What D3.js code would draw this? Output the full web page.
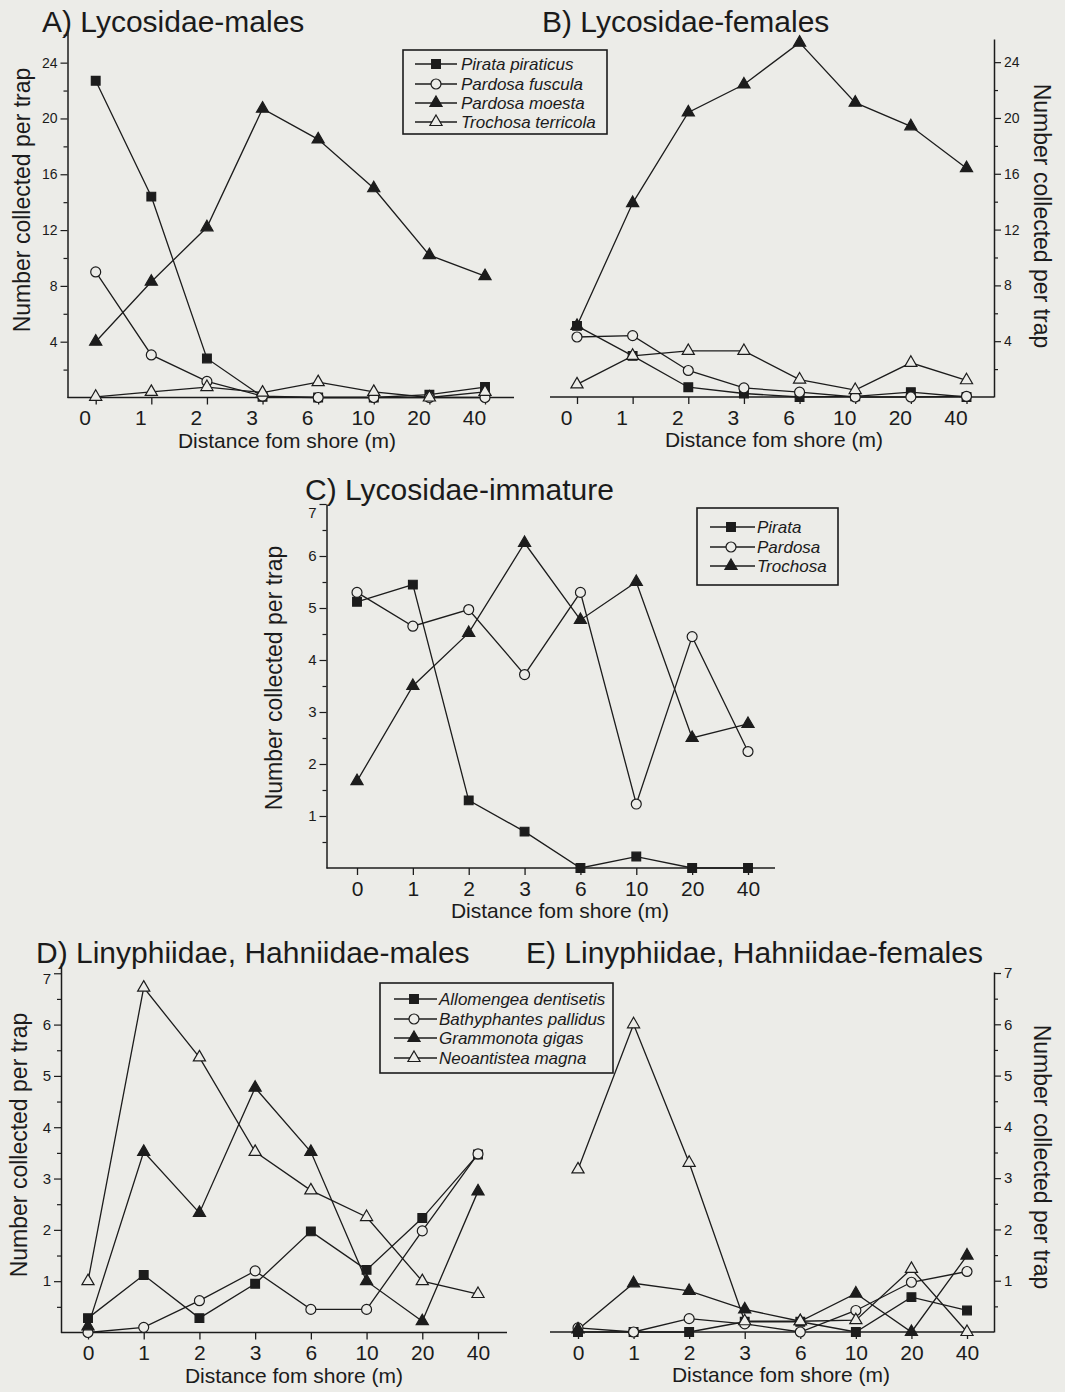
<!DOCTYPE html>
<html>
<head>
<meta charset="utf-8">
<script src="https://cdn.jsdelivr.net/npm/d3@7"></script>
<style>
  body { margin: 0; background: #ecece8; }
  svg text { font-family: "Liberation Sans", Arial, sans-serif; fill: #1b1b1b; }
</style>
</head>
<body>
<svg id="chart" width="1065" height="1392"></svg>
<script>
// distance categories (m)
var cats = ["0", "1", "2", "3", "6", "10", "20", "40"];

// A) Lycosidae males
var aPirata    = [22.7, 14.4, 2.8, 0.05, 0, 0, 0.2, 0.75];
var aFuscula   = [9.0, 3.05, 1.15, 0.1, 0, 0, 0, 0];
var aMoesta    = [4.0, 8.3, 12.2, 20.7, 18.5, 15.0, 10.2, 8.7];
var aTerricola = [0.05, 0.4, 0.75, 0.35, 1.1, 0.4, 0, 0.4];

// B) Lycosidae females
var bPirata    = [5.1, 2.95, 0.7, 0.25, 0, 0.05, 0.35, 0];
var bFuscula   = [4.3, 4.4, 1.9, 0.65, 0.35, 0, 0, 0.05];
var bMoesta    = [5.1, 13.9, 20.4, 22.4, 25.4, 21.1, 19.4, 16.4];
var bTerricola = [0.9, 2.95, 3.3, 3.3, 1.25, 0.5, 2.45, 1.2];

// C) Lycosidae immature
var cPirata   = [5.12, 5.45, 1.3, 0.7, 0, 0.22, 0, 0];
var cPardosa  = [5.3, 4.65, 4.97, 3.72, 5.3, 1.23, 4.45, 2.24];
var cTrochosa = [1.67, 3.5, 4.52, 6.25, 4.77, 5.5, 2.5, 2.77];

// D) Linyphiidae, Hahniidae males
var dAllomengea   = [0.28, 1.12, 0.28, 0.95, 1.97, 1.22, 2.23, 3.47];
var dBathyphantes = [0, 0.1, 0.62, 1.2, 0.45, 0.45, 1.98, 3.48];
var dGrammonota   = [0.12, 3.52, 2.33, 4.77, 3.52, 1.0, 0.22, 2.75];
var dNeoantistea  = [1.0, 6.72, 5.36, 3.52, 2.77, 2.25, 1.0, 0.75];

// E) Linyphiidae, Hahniidae females
var eAllomengea   = [0, 0, 0, 0.2, 0.2, 0, 0.68, 0.42];
var eBathyphantes = [0.08, 0, 0.26, 0.16, 0, 0.42, 0.97, 1.18];
var eGrammonota   = [0.05, 0.95, 0.8, 0.44, 0.21, 0.75, 0, 1.49];
var eNeoantistea  = [3.17, 6.0, 3.3, 0.21, 0.21, 0.23, 1.23, 0];

var lycoTicks = [4, 8, 12, 16, 20, 24];
var lycoMinor = [2, 6, 10, 14, 18, 22, 26];
var smallTicks = [1, 2, 3, 4, 5, 6, 7];
var smallMinor = [0.5, 1.5, 2.5, 3.5, 4.5, 5.5, 6.5];

var lycoNames = ["Pirata piraticus", "Pardosa fuscula", "Pardosa moesta", "Trochosa terricola"];
var immNames = ["Pirata", "Pardosa", "Trochosa"];
var linyNames = ["Allomengea dentisetis", "Bathyphantes pallidus", "Grammonota gigas", "Neoantistea magna"];

var bg = "#ecece8", ink = "#1c1c1c";
var svg = d3.select("#chart");
svg.append("rect").attr("width", 1065).attr("height", 1392).attr("fill", bg);

function marker(g, shape, x, y) {
  var type = shape === "square" ? d3.symbolSquare : shape === "circle" ? d3.symbolCircle : d3.symbolTriangle;
  var size = shape === "square" ? 76 : shape === "circle" ? 78 : 64;
  g.append("path")
    .attr("d", d3.symbol().type(type).size(size)())
    .attr("transform", "translate(" + x + "," + y + ")")
    .attr("fill", (shape === "circle" || shape === "triangleOpen") ? bg : ink)
    .attr("stroke", ink)
    .attr("stroke-width", 1.2);
}

function drawPanel(p) {
  var g = svg.append("g");
  var x = d3.scalePoint().domain(cats).range([p.xFirst, p.xLast]);
  var y = d3.scaleLinear().domain([0, p.yMax]).range([p.base, p.top]);
  var right = p.side === "right";
  var axisX = right ? p.xEnd : p.xStart;

  // x axis
  g.append("line")
    .attr("x1", p.xStart).attr("x2", p.xEnd)
    .attr("y1", p.base).attr("y2", p.base)
    .attr("stroke", ink).attr("stroke-width", 1.5);
  var xa = g.append("g")
    .attr("transform", "translate(0," + p.base + ")")
    .call(d3.axisBottom(x).tickSize(7).tickSizeOuter(0).tickPadding(6));
  xa.select(".domain").remove();
  xa.selectAll("line").attr("stroke", ink).attr("stroke-width", 1.3);
  xa.selectAll("text").attr("dx", p.labelDx).style("font-size", "21px");

  // y axis
  var yAxis = right ? d3.axisRight(y) : d3.axisLeft(y);
  var ya = g.append("g")
    .attr("transform", "translate(" + axisX + ",0)")
    .call(yAxis.tickValues(p.yTicks).tickFormat(d3.format("d"))
      .tickSize(7).tickSizeOuter(0).tickPadding(3));
  ya.select(".domain").attr("stroke", ink).attr("stroke-width", 1.5);
  ya.selectAll("line").attr("stroke", ink).attr("stroke-width", 1.2);
  ya.selectAll("text").style("font-size", p.yFont + "px");
  // the top label sits just under the panel title
  if (p.topNudge) {
    ya.selectAll(".tick text")
      .filter(function(d) { return d === p.yTicks[p.yTicks.length - 1]; })
      .attr("y", p.topNudge);
  }

  var yMinorAxis = right ? d3.axisRight(y) : d3.axisLeft(y);
  var ym = g.append("g")
    .attr("transform", "translate(" + axisX + ",0)")
    .call(yMinorAxis.tickValues(p.yMinor.filter(function(v) { return v <= p.yMax; }))
      .tickSize(4).tickSizeOuter(0).tickFormat(""));
  ym.select(".domain").remove();
  ym.selectAll("line").attr("stroke", ink).attr("stroke-width", 1.2);

  // titles
  g.append("text")
    .attr("x", p.titleX).attr("y", p.titleY)
    .style("font-size", "30px")
    .text(p.title);
  g.append("text")
    .attr("x", p.xTitleX).attr("y", p.base + 50)
    .attr("text-anchor", "middle")
    .style("font-size", "21px")
    .text("Distance fom shore (m)");
  g.append("text")
    .attr("transform", "translate(" + p.yTitleX + "," + p.yTitleY + ") rotate(" + (right ? 90 : -90) + ")")
    .attr("text-anchor", "middle")
    .attr("dy", "0.35em")
    .style("font-size", "23px")
    .text("Number collected per trap");

  // series
  var line = d3.line()
    .x(function(d, i) { return x(cats[i]); })
    .y(function(d) { return y(d); });
  p.series.forEach(function(s) {
    g.append("path")
      .attr("d", line(s.values))
      .attr("fill", "none")
      .attr("stroke", ink)
      .attr("stroke-width", 1.3);
  });
  p.series.forEach(function(s) {
    s.values.forEach(function(v, i) {
      marker(g, s.shape, x(cats[i]), y(v));
    });
  });
}

function drawLegend(l) {
  var g = svg.append("g");
  g.append("rect")
    .attr("x", l.x0).attr("y", l.y0)
    .attr("width", l.x1 - l.x0).attr("height", l.y1 - l.y0)
    .attr("fill", bg).attr("stroke", ink).attr("stroke-width", 1.6);
  l.names.forEach(function(name, i) {
    var ry = l.rows[i];
    g.append("line")
      .attr("x1", l.lineX0).attr("x2", l.lineX1)
      .attr("y1", ry).attr("y2", ry)
      .attr("stroke", ink).attr("stroke-width", 1.3);
    marker(g, l.shapes[i], l.markX, ry);
    g.append("text")
      .attr("x", l.textX).attr("y", ry)
      .attr("dy", "0.36em")
      .style("font-size", "17px")
      .style("font-style", "italic")
      .text(name);
  });
}

var fourShapes = ["square", "circle", "triangle", "triangleOpen"];

drawPanel({
  title: "A) Lycosidae-males", titleX: 42, titleY: 32,
  side: "left", xStart: 67.5, xEnd: 514, xFirst: 95.7, xLast: 485, labelDx: -11,
  base: 397.5, top: 30, yMax: 26.34, yTicks: lycoTicks, yMinor: lycoMinor, yFont: 14,
  xTitleX: 287, yTitleX: 22, yTitleY: 200,
  series: [
    { values: aPirata, shape: "square" },
    { values: aFuscula, shape: "circle" },
    { values: aMoesta, shape: "triangle" },
    { values: aTerricola, shape: "triangleOpen" }
  ]
});

drawPanel({
  title: "B) Lycosidae-females", titleX: 542, titleY: 32,
  side: "right", xStart: 550, xEnd: 994, xFirst: 577, xLast: 966.5, labelDx: -11,
  base: 397, top: 39, yMax: 25.66, yTicks: lycoTicks, yMinor: lycoMinor, yFont: 14,
  xTitleX: 774, yTitleX: 1042, yTitleY: 216,
  series: [
    { values: bPirata, shape: "square" },
    { values: bFuscula, shape: "circle" },
    { values: bMoesta, shape: "triangle" },
    { values: bTerricola, shape: "triangleOpen" }
  ]
});

drawPanel({
  title: "C) Lycosidae-immature", titleX: 305, titleY: 500,
  side: "left", xStart: 326.5, xEnd: 775, xFirst: 357, xLast: 748, labelDx: 0,
  base: 868, top: 504, yMax: 7, yTicks: smallTicks, yMinor: smallMinor, yFont: 15,
  topNudge: 9,
  xTitleX: 560, yTitleX: 274, yTitleY: 678,
  series: [
    { values: cPirata, shape: "square" },
    { values: cPardosa, shape: "circle" },
    { values: cTrochosa, shape: "triangle" }
  ]
});

drawPanel({
  title: "D) Linyphiidae, Hahniidae-males", titleX: 36, titleY: 963,
  side: "left", xStart: 61, xEnd: 507, xFirst: 88, xLast: 478, labelDx: 0,
  base: 1332.5, top: 963, yMax: 7.2, yTicks: smallTicks, yMinor: smallMinor, yFont: 15,
  topNudge: 5,
  xTitleX: 294, yTitleX: 19, yTitleY: 1145,
  series: [
    { values: dAllomengea, shape: "square" },
    { values: dBathyphantes, shape: "circle" },
    { values: dGrammonota, shape: "triangle" },
    { values: dNeoantistea, shape: "triangleOpen" }
  ]
});

drawPanel({
  title: "E) Linyphiidae, Hahniidae-females", titleX: 526, titleY: 963,
  side: "right", xStart: 550, xEnd: 994, xFirst: 578, xLast: 967, labelDx: 0,
  base: 1332, top: 972, yMax: 7.02, yTicks: smallTicks, yMinor: smallMinor, yFont: 15,
  xTitleX: 781, yTitleX: 1042, yTitleY: 1157,
  series: [
    { values: eAllomengea, shape: "square" },
    { values: eBathyphantes, shape: "circle" },
    { values: eGrammonota, shape: "triangle" },
    { values: eNeoantistea, shape: "triangleOpen" }
  ]
});

drawLegend({
  x0: 403, x1: 607, y0: 50, y1: 134, rows: [64, 84, 103, 122],
  lineX0: 415, lineX1: 457, markX: 436, textX: 461,
  names: lycoNames, shapes: fourShapes
});

drawLegend({
  x0: 697, x1: 838, y0: 508, y1: 585, rows: [527, 547, 566],
  lineX0: 710, lineX1: 755, markX: 731, textX: 757,
  names: immNames, shapes: ["square", "circle", "triangle"]
});

drawLegend({
  x0: 380, x1: 613, y0: 983, y1: 1073, rows: [999, 1019, 1038, 1058],
  lineX0: 394, lineX1: 437, markX: 414, textX: 439,
  names: linyNames, shapes: fourShapes
});
</script>
</body>
</html>
